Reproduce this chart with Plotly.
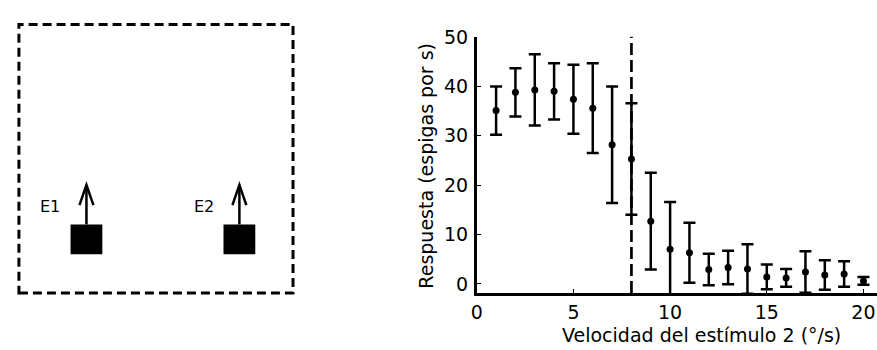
import plotly.graph_objects as go

# ---- data ----
velocidad = [1, 2, 3, 4, 5, 6, 7, 8, 9, 10, 11, 12, 13, 14, 15, 16, 17, 18, 19, 20]
respuesta = [35.1, 38.8, 39.3, 39.0, 37.4, 35.6, 28.2, 25.3, 12.7, 7.0,
             6.3, 2.9, 3.3, 3.0, 1.4, 1.2, 2.4, 1.8, 2.0, 0.6]
error = [4.9, 4.9, 7.2, 5.7, 7.0, 9.1, 11.8, 11.3, 9.8, 9.6,
         6.1, 3.2, 3.4, 5.0, 2.5, 1.8, 4.2, 3.0, 2.6, 0.8]
umbral = 8
x_ticks = [0, 5, 10, 15, 20]
y_ticks = [0, 10, 20, 30, 40, 50]
etiquetas = ["E1", "E2"]

W, H = 877, 350
FONT = "DejaVu Sans"

fig = go.Figure()
fig.add_trace(go.Scatter(
    x=velocidad, y=respuesta, mode="markers",
    marker=dict(color="black", size=7),
    error_y=dict(type="data", array=error, visible=True,
                 color="black", thickness=2.5, width=6),
    showlegend=False, cliponaxis=True,
))

# vertical dashed line at threshold
fig.add_shape(type="line", xref="x", yref="y", x0=umbral, x1=umbral,
              y0=-1.85, y1=50.1, line=dict(color="black", width=2.7, dash="12px,5px"))

# pixel helpers for the schematic panel
def px(x):
    return x / W

def py(y):
    return 1 - y / H

# dashed square
fig.add_shape(type="rect", xref="paper", yref="paper",
              x0=px(13), x1=px(289), y0=py(292), y1=py(14),
              line=dict(color="black", width=3, dash="9px,5px"))

for lab, cx, lx in zip(etiquetas, [81, 235], [44, 199]):
    # block
    fig.add_shape(type="rect", xref="paper", yref="paper",
                  x0=px(cx - 16), x1=px(cx + 16), y0=py(252), y1=py(221),
                  fillcolor="black", line=dict(color="black", width=0))
    # arrow shaft
    fig.add_shape(type="line", xref="paper", yref="paper",
                  x0=px(cx), x1=px(cx), y0=py(221), y1=py(181),
                  line=dict(color="black", width=2.5))
    # arrow head
    fig.add_shape(type="path", xref="paper", yref="paper",
                  path=f"M {px(cx-7)},{py(201)} L {px(cx)},{py(180)} L {px(cx+7)},{py(201)}",
                  line=dict(color="black", width=2.5))
    fig.add_annotation(x=px(lx), y=py(202), xref="paper", yref="paper",
                       text=lab, showarrow=False,
                       font=dict(family=FONT, size=16, color="black"),
                       xanchor="center", yanchor="middle")

# axis titles
fig.add_annotation(x=px(700), y=py(336), xref="paper", yref="paper",
                   text="Velocidad del estímulo 2 (°/s)", showarrow=False,
                   font=dict(family=FONT, size=19, color="black"),
                   xanchor="center", yanchor="middle")
fig.add_annotation(x=px(422), y=py(160), xref="paper", yref="paper",
                   text="Respuesta (espigas por s)", showarrow=False, textangle=-90,
                   font=dict(family=FONT, size=19, color="black"),
                   xanchor="center", yanchor="middle")

fig.update_layout(
    width=W, height=H,
    margin=dict(l=0, r=0, t=0, b=0),
    paper_bgcolor="white", plot_bgcolor="white",
    font=dict(family=FONT, size=19, color="black"),
    xaxis=dict(domain=[474 / W, 1.0], range=[0, 20.7], tickvals=x_ticks,
               showgrid=False, zeroline=False, showline=True, linecolor="black",
               linewidth=2.5, ticks="inside", ticklen=4, tickcolor="black",
               ticklabelstandoff=0),
    yaxis=dict(domain=[1 - 292 / H, 1 - 26.5 / H], range=[-1.85, 50.1], tickvals=y_ticks,
               showgrid=False, zeroline=False, showline=True, linecolor="black",
               linewidth=2.5, ticks="inside", ticklen=4, tickcolor="black",
               ticklabelstandoff=2),
)

fig.write_html("out.html")
